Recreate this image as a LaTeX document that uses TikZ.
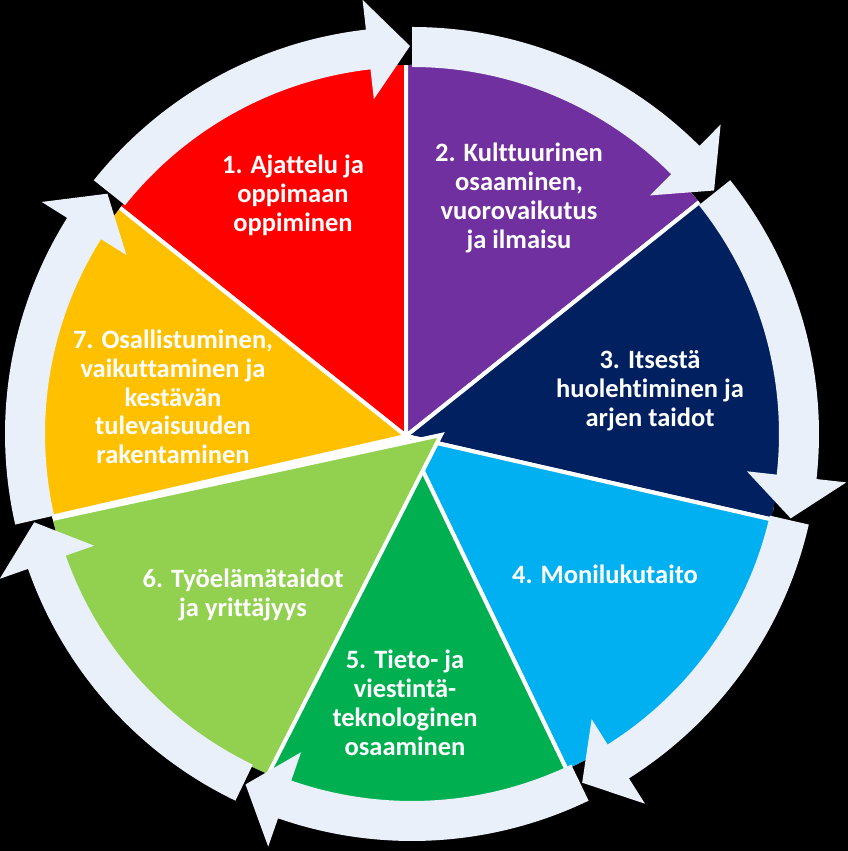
\documentclass[tikz,border=0pt]{standalone}
\usepackage{fontspec}
\setmainfont{Carlito}[Ligatures=NoCommon]
\usetikzlibrary{calc}
\definecolor{ringc}{RGB}{234,240,250}
\definecolor{c1}{RGB}{255,0,0}
\definecolor{c2}{RGB}{112,48,160}
\definecolor{c3}{RGB}{0,32,96}
\definecolor{c4}{RGB}{0,176,240}
\definecolor{c5}{RGB}{0,176,80}
\definecolor{c6}{RGB}{146,208,80}
\definecolor{c7}{RGB}{255,192,0}
\begin{document}
\begin{tikzpicture}[x=1pt,y=1pt,
  lbl/.style={text=white, font=\fontsize{26.5}{28.8}\selectfont\bfseries, align=center, inner sep=0pt},
  wedgeshape/.style={fill=#1, draw=white, line width=4pt, line join=miter}]
\fill[black] (0,0) rectangle (848,851);
\useasboundingbox (0,0) rectangle (848,851);
\coordinate (O) at (412,417);
\coordinate (W) at (406,415);
\coordinate (Wg) at (441,416);
\begin{scope}
\clip (O) circle (369);
\fill[white] (O) circle (369);
\foreach \s/\e/\c in {141.43/90/c1, 90/38.57/c2, 38.57/-12.86/c3, -12.86/-64.29/c4, -64.29/-115.71/c5, -167.14/-218.57/c7}{
  \filldraw[wedgeshape=\c] (W) -- ($(W)+(\s:700)$) -- ($(W)+(\e:700)$) -- cycle;
}
\filldraw[wedgeshape=c6] (Wg) -- ($(Wg)+(-117.0:700)$) -- ($(Wg)+(-167.8:700)$) -- cycle;
\end{scope}
\foreach \k in {0,...,6}{
  \pgfmathsetmacro\ta{90-51.4286*\k}
  \pgfmathsetmacro\hh{\ta-51.4286}
  \pgfmathsetmacro\hb{\hh+6.5}
  \pgfmathsetmacro\ht{\hh+0.3}
  \fill[ringc] ($(O)+(\ta:407)$) arc[start angle=\ta, end angle=\hb, radius=407]
    -- ($(O)+(\hb:437)$) -- ($(O)+(\ht:388)$) -- ($(O)+(\hb:337)$)
    -- ($(O)+(\hb:367)$) arc[start angle=\hb, end angle=\ta, radius=367] -- cycle;
}
\node[lbl] (t1) at (293,656) {1. Ajattelu ja\\oppimaan\\oppiminen};
\node[lbl] (t2) at (519,653) {2. Kulttuurinen\\osaaminen,\\vuorovaikutus\\ja ilmaisu};
\node[lbl] (t3) at (650,460) {3. Itsestä\\huolehtiminen ja\\arjen taidot};
\node[lbl] (t4) at (605,277) {4. Monilukutaito};
\node[lbl] (t5) at (405,148) {5. Tieto- ja\\viestintä-\\teknologinen\\osaaminen};
\node[lbl] (t6) at (243,256) {6. Työelämätaidot\\ja yrittäjyys};
\node[lbl] (t7) at (173,454) {7. Osallistuminen,\\vaikuttaminen ja\\kestävän\\tulevaisuuden\\rakentaminen};
\end{tikzpicture}
\end{document}
